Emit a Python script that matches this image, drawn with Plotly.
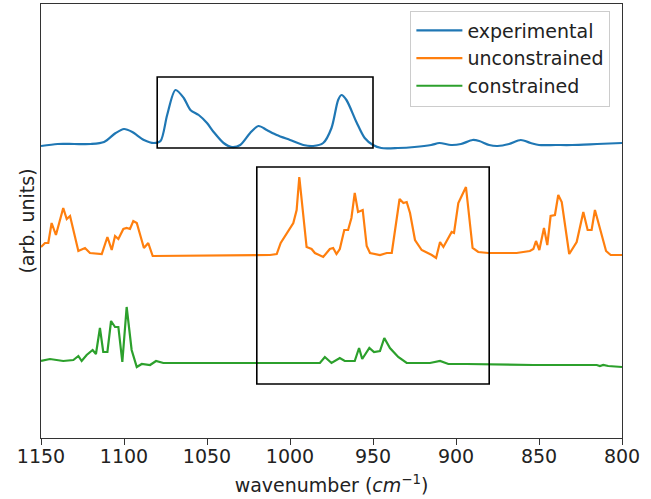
import plotly.graph_objects as go

# ---------------- data ----------------
exp_x = [1150, 1140, 1130, 1120, 1112, 1105, 1100, 1095, 1088, 1082, 1078, 1074, 1069, 1064,
         1060, 1055, 1050, 1046, 1040, 1035, 1030, 1024, 1019, 1014, 1008, 1000, 992, 986,
         980, 975, 971, 969, 966, 960, 955, 950, 945, 935, 925, 915, 910, 903, 897, 890,
         886, 880, 875, 868, 861, 855, 850, 840, 830, 815, 800]
exp_y = [2.92, 2.94, 2.94, 2.94, 2.96, 3.05, 3.09, 3.06, 2.98, 2.95, 2.97, 3.23, 3.48, 3.40,
         3.28, 3.23, 3.15, 3.06, 2.95, 2.91, 2.93, 3.05, 3.12, 3.08, 3.03, 2.98, 2.93, 2.92,
         2.95, 3.10, 3.38, 3.43, 3.38, 3.16, 3.00, 2.93, 2.90, 2.90, 2.91, 2.93, 2.95, 2.93, 2.94, 2.98,
         2.97, 2.93, 2.92, 2.94, 2.98, 2.95, 2.93, 2.93, 2.93, 2.94, 2.95]

unc_x = [1150, 1147.6, 1145.6, 1143.6, 1141, 1136.6, 1134.5, 1132.5, 1127.5, 1123.5, 1120.5,
         1113.4, 1110, 1107.4, 1105.4, 1103.4, 1100.4, 1098.4, 1096.4, 1094.4, 1092.3, 1088,
         1085.4, 1082.7, 1012, 1008, 1005.6, 998, 996, 994.4, 990, 987, 985, 980, 976, 974,
         972, 970, 967.3, 965, 963, 961, 959, 956.2, 953.8, 951.8, 945.8, 941.7, 938.7, 934,
         931.7, 929.7, 927.7, 924.7, 920.7, 914.6, 912, 909.6, 907.6, 902.6, 901.2, 898.6,
         894, 890, 886.6, 880.5, 863.5, 855.5, 853.4, 851.8, 849.8, 847, 845, 843, 840.4,
         838.4, 836.3, 831.8, 827.3, 823.3, 820.7, 818.3, 816.3, 809.6, 806.8, 800]
unc_y = [1.91, 1.95, 1.95, 2.15, 2.03, 2.30, 2.19, 2.22, 1.87, 1.90, 1.85,
         1.84, 2.01, 1.88, 2.02, 1.99, 2.09, 2.10, 2.09, 2.17, 2.15, 1.90,
         1.95, 1.82, 1.83, 1.84, 1.95, 2.15, 2.28, 2.61, 1.91, 1.89, 1.85, 1.81, 1.89, 1.90,
         1.84, 1.89, 2.08, 2.08, 2.20, 2.45, 2.26, 2.28, 1.92, 1.85, 1.83, 1.85, 1.85, 2.39,
         2.35, 2.36, 2.25, 1.98, 1.88, 1.83, 1.80, 1.96, 1.91, 2.06, 2.05, 2.35,
         2.51, 1.90, 1.86, 1.85, 1.85, 1.87, 1.89, 1.97, 1.88, 2.10, 1.93, 2.22, 2.23,
         2.43, 2.36, 1.84, 1.96, 2.26, 2.08, 2.08, 2.28, 1.87, 1.83, 1.83]

con_x = [1150, 1144.6, 1136.6, 1130.5, 1127.5, 1125.5, 1122.5, 1118.9, 1116.9, 1114.5, 1112.5,
         1110, 1107.8, 1105.4, 1103.4, 1101, 1098.4, 1095.4, 1092.3, 1089.3, 1084.3, 1080.7,
         1076.3, 1030, 982, 979, 975, 970, 967, 961, 958.4, 956.5, 952.2, 949.4, 945.8, 943.2,
         939.8, 934.8, 929.7, 924.7, 915.7, 909.6, 904.6, 893.6, 853.4, 815.2, 813.3, 811.3,
         808.3, 800]
con_y = [0.77, 0.79, 0.77, 0.78, 0.82, 0.77, 0.83, 0.88, 0.84, 1.10, 0.86,
         0.86, 1.17, 1.11, 1.11, 0.76, 1.31, 0.88, 0.71, 0.74, 0.73, 0.77,
         0.75, 0.75, 0.75, 0.81, 0.75, 0.80, 0.77, 0.77, 0.90, 0.79, 0.90, 0.86, 0.87, 1.00,
         0.90, 0.81, 0.75, 0.75, 0.75, 0.77, 0.74, 0.74, 0.73, 0.73, 0.72, 0.73,
         0.72, 0.71]

series_names = ["experimental", "unconstrained", "constrained"]
series_colors = ["#1f77b4", "#ff7f0e", "#2ca02c"]

# highlight boxes: (x0, x1, y0, y1)
box_exp = [1080, 950, 2.90, 3.61]
box_calc = [1020, 880, 0.54, 2.71]

x_ticks = [1150, 1100, 1050, 1000, 950, 900, 850, 800]

# ---------------- figure ----------------
FONT = "DejaVu Sans"
FS = 19
fig = go.Figure()
fig.add_trace(go.Scatter(x=exp_x, y=exp_y, mode="lines", name=series_names[0],
                         line=dict(color=series_colors[0], width=2.2, shape="spline", smoothing=0.8)))
fig.add_trace(go.Scatter(x=unc_x, y=unc_y, mode="lines", name=series_names[1],
                         line=dict(color=series_colors[1], width=2.2)))
fig.add_trace(go.Scatter(x=con_x, y=con_y, mode="lines", name=series_names[2],
                         line=dict(color=series_colors[2], width=2.2)))

for b in (box_exp, box_calc):
    fig.add_shape(type="rect", xref="x", yref="y", x0=b[0], x1=b[1], y0=b[2], y1=b[3],
                  line=dict(color="black", width=1.6), fillcolor="rgba(0,0,0,0)")

fig.update_layout(
    width=651, height=499,
    margin=dict(l=41, r=29, t=4, b=61),
    paper_bgcolor="white", plot_bgcolor="white",
    font=dict(family=FONT, size=FS, color="#222"),
    showlegend=True,
    legend=dict(x=0.98, y=0.985, xanchor="right", yanchor="top",
                bgcolor="rgba(255,255,255,0.85)", bordercolor="#cccccc", borderwidth=1,
                font=dict(family=FONT, size=FS, color="#222"),
                itemwidth=46),
    xaxis=dict(range=[1150, 800], autorange=False, tickvals=x_ticks,
               ticktext=[str(t) for t in x_ticks],
               ticks="outside", ticklen=6, tickwidth=1, tickcolor="#333",
               ticklabelstandoff=-5,
               showline=True, linecolor="#333", linewidth=1, mirror=True,
               showgrid=False, zeroline=False,
               tickfont=dict(family=FONT, size=FS, color="#222"),
               title=dict(text="wavenumber (<i>cm</i><sup>−1</sup>)", standoff=12,
                          font=dict(family=FONT, size=FS, color="#222"))),
    yaxis=dict(range=[0, 4.34], autorange=False, showticklabels=False, ticks="",
               showline=True, linecolor="#333", linewidth=1, mirror=True,
               showgrid=False, zeroline=False,
               title=dict(text="(arb. units)", standoff=0,
                          font=dict(family=FONT, size=FS, color="#222"))),
)

fig.write_html("out.html")
